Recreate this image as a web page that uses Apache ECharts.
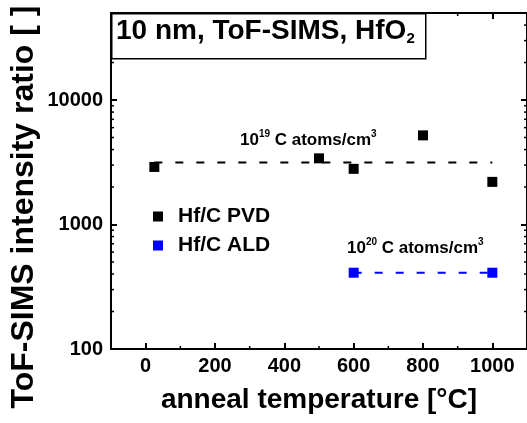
<!DOCTYPE html>
<html>
<head>
<meta charset="utf-8">
<script src="https://cdn.jsdelivr.net/npm/echarts@6/dist/echarts.min.js"></script>
<style>
  html, body { margin: 0; padding: 0; background: #fff; }
  #chart { width: 527px; height: 423px; }
</style>
</head>
<body>
<div id="chart"></div>
<script>
// Hf/C intensity ratios measured by ToF-SIMS on 10 nm HfO2 films
const tempPVD  = [25, 500, 600, 800, 1000];
const ratioPVD = [2900, 3400, 2800, 5200, 2200];
const tempALD  = [600, 1000];
const ratioALD = [410, 410];

// guide levels for the two carbon concentrations
const guidePVD = { from: 25,  to: 1000, level: 3150 };
const guideALD = { from: 600, to: 1000, level: 410 };

// axis ranges and tick values
const xRange = [-100, 1100];
const yRange = [100, 50000];
const xMinorTicks = [100, 300, 500, 700, 900];
const yMinorTicks = [200, 300, 400, 500, 600, 700, 800, 900,
                     2000, 3000, 4000, 5000, 6000, 7000, 8000, 9000,
                     20000, 30000, 40000];

const FONT = '"Liberation Sans", Arial, sans-serif';
const chart = echarts.init(document.getElementById('chart'), null, { renderer: 'canvas' });

const pair = (xs, ys) => xs.map((x, i) => [x, ys[i]]);
const guideLine = g => [[g.from, g.level], [g.to, g.level]];

// short inward minor ticks on both opposite sides of the frame
function minorTickRenderer(dir) {
  return function (params, api) {
    const v = api.value(dir === 'y' ? 1 : 0);
    const len = 3;
    const style = { stroke: '#000', lineWidth: 1.5 };
    if (dir === 'y') {
      const a = api.coord([xRange[0], v]);
      const b = api.coord([xRange[1], v]);
      return { type: 'group', children: [
        { type: 'line', shape: { x1: a[0], y1: a[1], x2: a[0] + len, y2: a[1] }, style },
        { type: 'line', shape: { x1: b[0] - len, y1: b[1], x2: b[0], y2: b[1] }, style }
      ]};
    }
    const a = api.coord([v, yRange[0]]);
    const b = api.coord([v, yRange[1]]);
    return { type: 'group', children: [
      { type: 'line', shape: { x1: a[0], y1: a[1], x2: a[0], y2: a[1] - len }, style },
      { type: 'line', shape: { x1: b[0], y1: b[1], x2: b[0], y2: b[1] + len }, style }
    ]};
  };
}

const axisLine = { show: true, onZero: false, lineStyle: { color: '#000', width: 2 } };
const majorTick = { show: true, inside: true, length: 6, lineStyle: { color: '#000', width: 2 } };
const tickLabel = { color: '#000', fontFamily: FONT, fontWeight: 'bold', fontSize: 20 };
const plainNumber = v => String(Math.round(v));

const concentrationRich = {
  m: { fontFamily: FONT, fontWeight: 'bold', fontSize: 17, lineHeight: 22, fill: '#000' },
  s: { fontFamily: FONT, fontWeight: 'bold', fontSize: 10, lineHeight: 11, verticalAlign: 'top', fill: '#000' }
};

const option = {
  animation: false,
  backgroundColor: '#fff',
  grid: { left: 111, right: -2, top: 13, bottom: 74, containLabel: false },
  xAxis: [
    {
      type: 'value', position: 'bottom', min: xRange[0], max: xRange[1], splitNumber: 6,
      axisLine, axisTick: majorTick, splitLine: { show: false },
      axisLabel: Object.assign({ margin: 7, showMinLabel: false, showMaxLabel: false,
        formatter: plainNumber }, tickLabel),
      name: 'anneal temperature [°C]', nameLocation: 'middle', nameGap: 37,
      nameTextStyle: { color: '#000', fontFamily: FONT, fontWeight: 'bold', fontSize: 28 }
    },
    {
      type: 'value', position: 'top', min: xRange[0], max: xRange[1], splitNumber: 6,
      axisLine, axisTick: majorTick, splitLine: { show: false }, axisLabel: { show: false }
    }
  ],
  yAxis: [
    {
      type: 'log', logBase: 10, position: 'left', min: yRange[0], max: yRange[1],
      axisLine, axisTick: majorTick, splitLine: { show: false },
      axisLabel: Object.assign({ margin: 8, showMaxLabel: false, formatter: plainNumber }, tickLabel)
    },
    {
      type: 'log', logBase: 10, position: 'right', min: yRange[0], max: yRange[1],
      axisLine, axisTick: majorTick, splitLine: { show: false }, axisLabel: { show: false }
    }
  ],
  legend: {
    data: ['Hf/C PVD', 'Hf/C ALD'],
    orient: 'vertical', left: 153, top: 206, padding: 0, itemGap: 8,
    itemWidth: 10, itemHeight: 10, icon: 'rect',
    textStyle: { color: '#000', fontFamily: FONT, fontWeight: 'bold', fontSize: 21, padding: [0, 0, 0, 10] }
  },
  series: [
    {
      name: 'guide PVD', type: 'line', data: guideLine(guidePVD), symbol: 'none', silent: true, z: 2,
      lineStyle: { color: '#000', width: 2, type: [8, 13] }
    },
    {
      name: 'guide ALD', type: 'line', data: guideLine(guideALD), symbol: 'none', silent: true, z: 2,
      lineStyle: { color: '#0000ff', width: 2, type: [8, 13] }
    },
    {
      name: 'Hf/C PVD', type: 'scatter', data: pair(tempPVD, ratioPVD), symbol: 'rect', symbolSize: 10, z: 3,
      itemStyle: { color: '#000', opacity: 1 }
    },
    {
      name: 'Hf/C ALD', type: 'scatter', data: pair(tempALD, ratioALD), symbol: 'rect', symbolSize: 10, z: 3,
      itemStyle: { color: '#0000ff', opacity: 1 }
    },
    {
      name: 'y minor ticks', type: 'custom', silent: true, clip: false, z: 4,
      data: yMinorTicks.map(v => [xRange[0], v]), renderItem: minorTickRenderer('y')
    },
    {
      name: 'x minor ticks', type: 'custom', silent: true, clip: false, z: 4,
      data: xMinorTicks.map(v => [v, yRange[0]]), renderItem: minorTickRenderer('x')
    }
  ],
  graphic: [
    {
      // y-axis title, drawn bottom-to-top
      type: 'text', x: 24, y: 207, rotation: Math.PI / 2, z: 11,
      style: {
        text: 'ToF-SIMS intensity ratio [ ]',
        font: 'bold 32px ' + FONT, fill: '#000',
        align: 'center', verticalAlign: 'middle',
        textAlign: 'center', textVerticalAlign: 'middle'
      }
    },
    {
      type: 'rect', left: 111, top: 13, z: 10,
      shape: { width: 314, height: 45 },
      style: { fill: '#fff', stroke: '#000', lineWidth: 1.5 }
    },
    {
      type: 'text', left: 116, top: 17, z: 11,
      style: {
        text: '{m|10 nm, ToF-SIMS, HfO}{s|2}',
        rich: {
          m: { fontFamily: FONT, fontWeight: 'bold', fontSize: 28, lineHeight: 30, fill: '#000' },
          s: { fontFamily: FONT, fontWeight: 'bold', fontSize: 15, lineHeight: 12, verticalAlign: 'bottom', fill: '#000' }
        }
      }
    },
    {
      type: 'text', left: 240, top: 129, z: 11,
      style: { text: '{m|10}{s|19}{m| C atoms/cm}{s|3}', rich: concentrationRich }
    },
    {
      type: 'text', left: 347, top: 237, z: 11,
      style: { text: '{m|10}{s|20}{m| C atoms/cm}{s|3}', rich: concentrationRich }
    }
  ]
};

chart.setOption(option);
</script>
</body>
</html>
